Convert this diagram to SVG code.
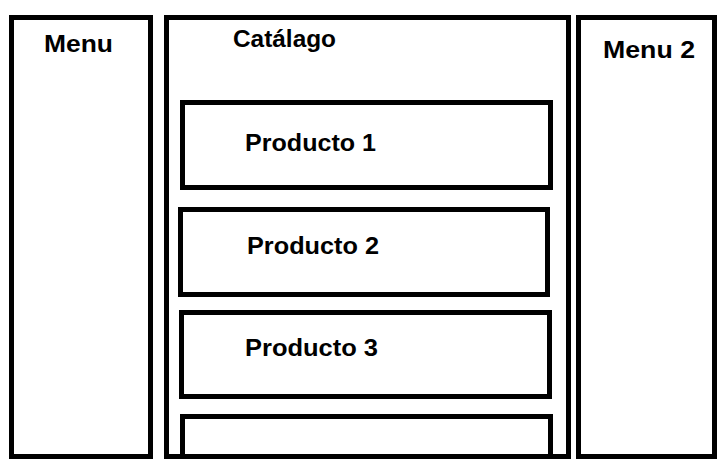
<svg xmlns="http://www.w3.org/2000/svg" width="721" height="465" viewBox="0 0 721 465">
<style>
.box{fill:none;stroke:#000;stroke-width:5}
.lbl{font-family:"Liberation Sans",Arial,sans-serif;font-weight:bold;font-size:24px;fill:#000}
</style>
<rect width="721" height="465" fill="#fff"/>
<g id="menu"><rect class="box" x="11.5" y="17.5" width="139" height="439"/><text class="lbl" x="44" y="52" textLength="69" lengthAdjust="spacingAndGlyphs">Menu</text></g>
<g id="catalogo"><rect class="box" x="166.5" y="17.5" width="402" height="439"/><text class="lbl" x="233" y="47" textLength="103" lengthAdjust="spacingAndGlyphs">Catálago</text></g>
<g id="menu2"><rect class="box" x="578.5" y="17.5" width="136" height="439"/><text class="lbl" x="603" y="58" textLength="92" lengthAdjust="spacingAndGlyphs">Menu 2</text></g>
<g id="producto1"><rect class="box" x="182.5" y="102.5" width="368" height="85"/><text class="lbl" x="245" y="151" textLength="131" lengthAdjust="spacingAndGlyphs">Producto 1</text></g>
<g id="producto2"><rect class="box" x="180.5" y="209.5" width="367" height="85"/><text class="lbl" x="247" y="254" textLength="132" lengthAdjust="spacingAndGlyphs">Producto 2</text></g>
<g id="producto3"><rect class="box" x="181.5" y="312.5" width="368" height="84"/><text class="lbl" x="245" y="356" textLength="133" lengthAdjust="spacingAndGlyphs">Producto 3</text></g>
<g id="producto4"><path class="box" d="M182.5,454 V416.5 H550.5 V454"/></g>
<g id="connectors"></g>
</svg>
